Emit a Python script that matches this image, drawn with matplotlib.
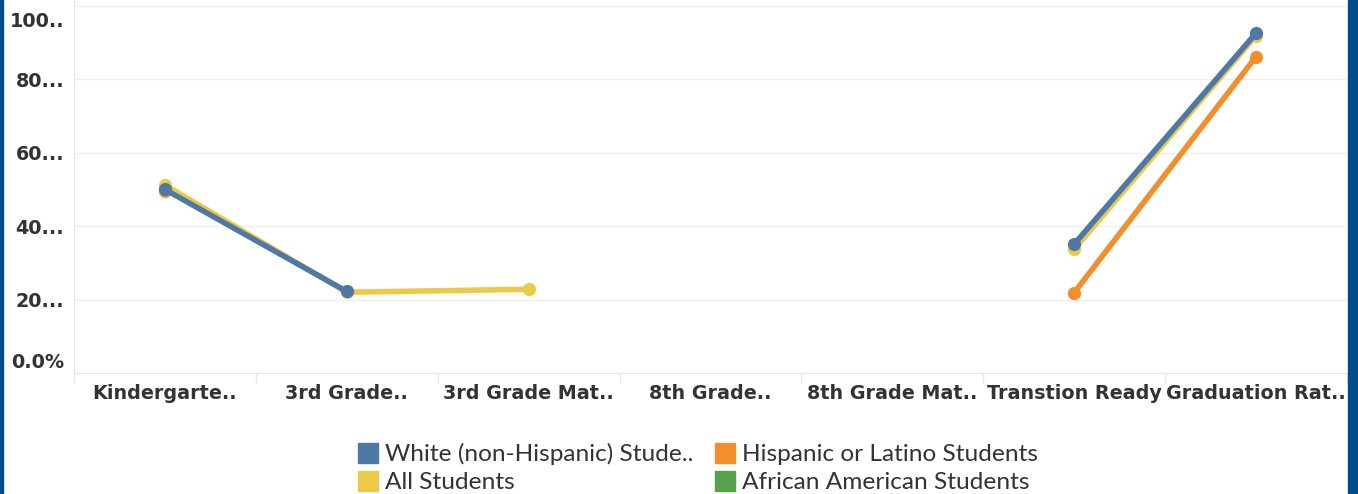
import numpy as np
import matplotlib.pyplot as plt
import matplotlib.transforms as mtransforms
from matplotlib.patches import Rectangle

W, H = 1358, 494

categories = ["Kindergarte..", "3rd Grade..", "3rd Grade Mat..", "8th Grade..",
              "8th Grade Mat..", "Transtion Ready", "Graduation Rat.."]
ytick_vals = [0, 20, 40, 60, 80, 100]
ytick_labels = ["0.0%", "20...", "40...", "60...", "80...", "100.."]

nan = np.nan
white = [50.0, 22.2, nan, nan, nan, 35.1, 92.6]
hispanic = [49.6, nan, nan, nan, nan, 21.9, 86.2]
all_students = [51.2, 22.0, 22.8, nan, nan, 33.7, 91.9]
african_american = [nan, nan, nan, nan, nan, nan, nan]

series = [
    ("African American Students", african_american, "#59a14f"),
    ("Hispanic or Latino Students", hispanic, "#f28e2b"),
    ("All Students", all_students, "#edc948"),
    ("White (non-Hispanic) Stude..", white, "#4e79a7"),
]

def fx(px):
    return px / W

def fy(py):
    return 1 - py / H

fig = plt.figure(figsize=(W / 100, H / 100), dpi=100)
ax = fig.add_axes([fx(74), fy(373), fx(1347) - fx(74), fy(0) - fy(373)])

x = np.arange(len(categories))
for name, vals, col in series:
    v = np.array(vals, dtype=float)
    ax.plot(x, v, color=col, lw=4, marker="o", ms=8.5, solid_capstyle="round")

ax.set_xlim(-0.5, len(categories) - 0.5)
ax.set_ylim(0, 101.6)

ax.set_yticks(ytick_vals)
ax.set_yticklabels(ytick_labels)
ax.set_xticks(x)
ax.set_xticklabels(categories)
ax.set_xticks(np.arange(-0.5, len(categories)), minor=True)

ax.tick_params(axis="x", which="major", length=0, pad=8)
ax.tick_params(axis="x", which="minor", length=7, color="#e6e6e6", width=1)
ax.tick_params(axis="y", length=0, pad=7)
for lab in ax.get_xticklabels() + ax.get_yticklabels():
    lab.set_fontweight("bold")
    lab.set_color("#333333")
    lab.set_fontsize(13.8)

# tableau keeps end labels inside the pane
ylabs = ax.get_yticklabels()
ylabs[0].set_transform(ylabs[0].get_transform() +
                       mtransforms.ScaledTranslation(0, 12 / 100, fig.dpi_scale_trans))
ylabs[-1].set_transform(ylabs[-1].get_transform() +
                        mtransforms.ScaledTranslation(0, -14 / 100, fig.dpi_scale_trans))

ax.grid(axis="y", color="#efefef", lw=1)
ax.set_axisbelow(True)
for s in ["top", "right"]:
    ax.spines[s].set_visible(False)
ax.spines["left"].set_color("#e6e6e6")
ax.spines["bottom"].set_color("#e6e6e6")

# legend drawn by hand
leg = [
    ("White (non-Hispanic) Stude..", "#4e79a7", 358, 443),
    ("Hispanic or Latino Students", "#f28e2b", 715, 443),
    ("All Students", "#edc948", 358, 471),
    ("African American Students", "#59a14f", 715, 471),
]
for txt, col, px, py in leg:
    fig.patches.append(Rectangle((fx(px), fy(py + 20)), 20 / W, 20 / H,
                                 transform=fig.transFigure, color=col))
    fig.text(fx(px + 27), fy(py + 18), txt, fontsize=17.6, color="#333333",
             va="baseline", ha="left", family="Lato")

# dark blue side borders
fig.patches.append(Rectangle((0, 0), 3 / W, 1, transform=fig.transFigure,
                             color="#004b8d"))
fig.patches.append(Rectangle((fx(1348), 0), 10 / W, 1, transform=fig.transFigure,
                             color="#004b8d"))

fig.savefig("out.png", dpi=100)
